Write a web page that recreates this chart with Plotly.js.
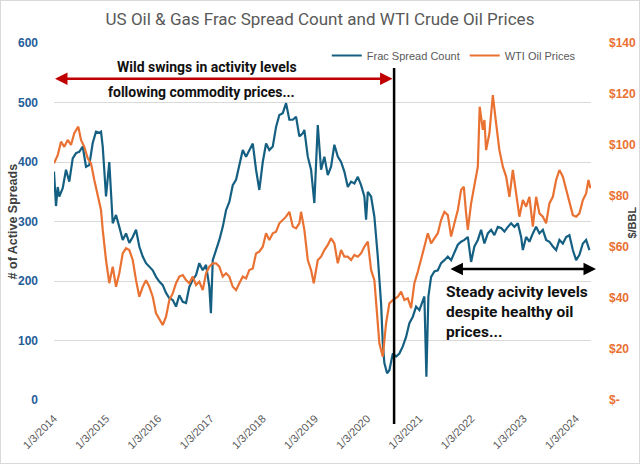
<!DOCTYPE html>
<html>
<head>
<meta charset="utf-8">
<script src="https://cdn.plot.ly/plotly-3.0.1.min.js"></script>
<style>
html,body{margin:0;padding:0;background:#fff;}
#chart{width:638px;height:462px;border:1px solid #D9D9D9;}
</style>
</head>
<body>
<div id="chart"></div>
<script>
// ---- Data ----
const fracDates = ["2014-01-03","2014-01-17","2014-01-29","2014-02-09","2014-03-05","2014-03-28","2014-04-20","2014-05-14","2014-06-06","2014-06-29","2014-07-23","2014-08-15","2014-09-07","2014-10-01","2014-10-24","2014-11-16","2014-11-28","2014-12-10",
"2015-01-02","2015-01-25","2015-02-18","2015-03-13","2015-04-05","2015-04-29","2015-05-22","2015-06-14","2015-07-08","2015-07-31","2015-08-23","2015-09-16","2015-10-09","2015-11-01","2015-11-25","2015-12-18",
"2016-01-10","2016-02-03","2016-02-26","2016-03-20","2016-04-13","2016-05-06","2016-05-29","2016-06-22","2016-07-15","2016-08-07","2016-08-31","2016-09-23","2016-10-16","2016-11-09","2016-12-02","2016-12-25",
"2017-01-05","2017-01-18","2017-02-10","2017-03-05","2017-03-29","2017-04-21","2017-05-14","2017-06-07","2017-06-30","2017-07-23","2017-08-16","2017-09-08","2017-10-01","2017-10-25","2017-11-17","2017-12-10",
"2018-01-03","2018-01-26","2018-02-18","2018-03-14","2018-04-06","2018-04-29","2018-05-23","2018-06-15","2018-07-08","2018-08-01","2018-08-24","2018-09-16","2018-10-10","2018-10-21","2018-11-14","2018-12-07","2018-12-30",
"2019-01-23","2019-02-15","2019-03-10","2019-04-03","2019-04-26","2019-05-19","2019-06-12","2019-07-05","2019-07-28","2019-08-21","2019-09-13","2019-10-06","2019-10-30","2019-11-22","2019-12-15","2019-12-27",
"2020-01-08","2020-01-31","2020-02-23","2020-03-18","2020-04-10","2020-04-22","2020-05-03","2020-05-22","2020-06-07","2020-07-01","2020-07-24","2020-08-16","2020-09-09","2020-10-02","2020-10-25","2020-11-18","2020-12-11",
"2021-01-03","2021-01-27","2021-02-07","2021-02-21","2021-03-07","2021-03-26","2021-04-18","2021-05-12","2021-06-04","2021-06-27","2021-07-21","2021-08-13","2021-09-05","2021-09-29","2021-10-22","2021-11-14","2021-12-08","2021-12-31",
"2022-01-23","2022-02-16","2022-03-11","2022-04-03","2022-04-27","2022-05-20","2022-06-12","2022-07-06","2022-07-29","2022-08-21","2022-09-14","2022-10-07","2022-10-30","2022-11-23","2022-12-16","2022-12-28",
"2023-01-20","2023-02-12","2023-03-08","2023-03-31","2023-04-23","2023-05-17","2023-06-09","2023-07-02","2023-07-26","2023-08-18","2023-09-10","2023-10-04","2023-10-27","2023-11-19","2023-12-13",
"2024-01-05","2024-01-28","2024-02-21","2024-03-15","2024-04-07"];
const fracCount = [384,326,358,342,356,387,367,406,415,417,426,392,395,432,451,449,451,426,
342,400,297,311,291,269,280,264,274,286,258,241,230,224,218,207,
199,193,180,171,168,157,176,165,163,190,202,210,230,218,227,190,
146,235,252,269,291,319,333,361,370,392,420,409,420,431,387,353,
400,431,420,426,459,479,482,499,471,471,476,443,448,454,409,387,331,
462,387,409,378,392,429,409,400,384,358,367,364,375,361,342,303,
350,342,308,241,162,95,62,45,50,78,73,78,90,106,129,140,157,
151,168,174,39,174,207,216,218,230,235,241,235,247,261,266,269,274,232,
258,269,286,263,280,286,277,291,289,283,291,297,291,297,274,252,
274,266,280,291,280,286,269,266,258,252,269,263,274,277,252,
235,244,263,269,252];

const wtiDates = ["2014-01-03","2014-01-29","2014-02-21","2014-03-16","2014-04-09","2014-05-02","2014-05-25","2014-06-22","2014-07-11","2014-08-03","2014-08-27","2014-09-19","2014-10-12","2014-11-05","2014-11-28","2014-12-10",
"2015-01-02","2015-01-25","2015-02-18","2015-03-13","2015-04-05","2015-04-29","2015-05-22","2015-06-14","2015-07-08","2015-07-31","2015-08-23","2015-09-16","2015-10-09","2015-11-01","2015-11-25","2015-12-18",
"2016-01-10","2016-02-03","2016-02-26","2016-03-20","2016-04-13","2016-05-06","2016-05-29","2016-06-22","2016-07-15","2016-08-07","2016-08-31","2016-09-23","2016-10-16","2016-11-09","2016-12-02","2016-12-25",
"2017-01-18","2017-02-10","2017-03-05","2017-03-29","2017-04-21","2017-05-14","2017-06-07","2017-06-30","2017-07-23","2017-08-16","2017-09-08","2017-10-01","2017-10-25","2017-11-17","2017-12-10",
"2018-01-03","2018-01-26","2018-02-18","2018-03-14","2018-04-06","2018-04-29","2018-05-23","2018-06-15","2018-07-08","2018-08-01","2018-08-24","2018-09-16","2018-09-28","2018-10-21","2018-11-14","2018-12-07","2018-12-26",
"2019-01-23","2019-02-15","2019-03-10","2019-04-03","2019-04-26","2019-05-19","2019-06-12","2019-07-05","2019-07-28","2019-08-21","2019-09-13","2019-10-06","2019-10-30","2019-11-22","2019-12-15",
"2020-01-08","2020-01-31","2020-02-23","2020-03-16","2020-03-29","2020-04-22","2020-05-15","2020-06-07","2020-07-01","2020-08-05","2020-08-28","2020-09-20","2020-10-14","2020-11-06","2020-11-29","2020-12-23",
"2021-01-15","2021-02-07","2021-03-03","2021-03-26","2021-04-18","2021-05-12","2021-06-04","2021-06-27","2021-07-21","2021-08-13","2021-09-05","2021-09-29","2021-10-22","2021-11-10","2021-11-26","2021-12-08","2021-12-31",
"2022-01-23","2022-02-16","2022-03-01","2022-03-23","2022-04-03","2022-04-15","2022-05-08","2022-06-01","2022-06-24","2022-07-17","2022-08-10","2022-09-02","2022-09-25","2022-10-19","2022-11-11","2022-12-04","2022-12-28",
"2023-01-20","2023-02-12","2023-03-08","2023-03-31","2023-04-23","2023-05-17","2023-06-09","2023-07-02","2023-07-26","2023-08-18","2023-09-10","2023-10-04","2023-10-27","2023-11-19","2023-12-13",
"2024-01-05","2024-01-28","2024-02-21","2024-03-15","2024-03-31","2024-04-14"];
const wtiPrice = [92.8,96,101.3,99.3,102,100,104.6,107.2,102,99.3,94.8,92.8,86.3,79.7,74.5,66.7,
54.9,45.8,52.3,44.4,49.7,57.5,59.5,58.8,54.9,47,40.5,44.4,47,44.4,40.5,34,
32,29.4,32.7,39.2,41.8,45.8,48.4,49,47,45.8,48.4,45.1,46.4,43.1,49.7,52.3,
53.6,53.6,52.3,48.4,49.7,48.4,44.4,43.1,45.8,48.4,47.7,51,51.6,57.5,58.2,
60.1,65.4,62.7,65.4,66,69.3,70.6,71.9,73.8,68,67.3,69.3,73.8,66.7,54.9,51,45.8,
54.9,56.2,58.8,60.8,63.4,61.4,53.6,58.8,56.2,56.2,54.9,56.9,56.2,57.5,60.1,
62.1,51,47,30.1,22.2,17,30.1,37.9,39.2,40.5,42.5,39.2,39.9,36,45.8,50.3,
54.9,60.1,65.4,61.4,63.4,65.4,70.6,73.8,72.5,64.1,69.3,74.5,82.4,83.6,73.2,66.7,77.1,
85,91.5,115,105.9,109.8,98,104.6,119.6,108.5,98,91.5,87.6,79.7,90.2,81,71.9,78.4,
75.8,79.7,68,79.7,73.2,71.9,69.3,77.1,79.7,86.3,90.2,87.6,82.4,77.1,72.5,
71.9,73.2,78.4,81,86.3,83];

const yearTicks = ["2014-01-03","2015-01-03","2016-01-03","2017-01-03","2018-01-03","2019-01-03","2020-01-03","2021-01-03","2022-01-03","2023-01-03","2024-01-03"];
const yearLabels = ["1/3/2014","1/3/2015","1/3/2016","1/3/2017","1/3/2018","1/3/2019","1/3/2020","1/3/2021","1/3/2022","1/3/2023","1/3/2024"];
const leftTicks = [0,100,200,300,400,500,600];
const rightTicks = [0,20,40,60,80,100,120,140];
const rightLabels = ["$-","$20","$40","$60","$80","$100","$120","$140"];
const splitDate = "2020-07-10";

const BLUE = "#156082", ORANGE = "#E97132";
const SANS = "Liberation Sans, Arial, sans-serif";
const NOTE = "Roboto, sans-serif";

const traces = [
  {x: fracDates, y: fracCount, type: "scatter", mode: "lines", name: "Frac Spread Count",
   line: {color: BLUE, width: 2.2}, yaxis: "y"},
  {x: wtiDates, y: wtiPrice, type: "scatter", mode: "lines", name: "WTI Oil Prices",
   line: {color: ORANGE, width: 2.2}, yaxis: "y2"}
];

const layout = {
  width: 638, height: 462,
  margin: {l: 53, r: 48, t: 42, b: 63},
  paper_bgcolor: "#fff", plot_bgcolor: "#fff",
  title: {text: "US Oil & Gas Frac Spread Count and WTI Crude Oil Prices",
          font: {family: NOTE, size: 17, color: "#595959"}, x: 0.5, xanchor: "center", y: 0.962, yanchor: "middle"},
  showlegend: true,
  legend: {orientation: "h", x: 0.508, xanchor: "left", y: 0.965, yanchor: "middle",
           font: {family: SANS, size: 11, color: "#595959"},
           bgcolor: "rgba(0,0,0,0)", itemwidth: 30, tracegroupgap: 0},
  xaxis: {type: "date", range: ["2014-01-03", "2024-04-18"], tickvals: yearTicks, ticktext: yearLabels,
          tickangle: -45, showgrid: false, zeroline: false, showline: false, ticks: "", ticklabelstandoff: 9,
          tickfont: {family: SANS, size: 11, color: "#595959"}},
  yaxis: {range: [0, 600], tickvals: leftTicks, showgrid: true, gridcolor: "#D9D9D9", gridwidth: 1,
          zeroline: false, showline: false, ticks: "", ticklabelstandoff: 15,
          tickfont: {family: SANS, size: 12, color: "#1F5E99", weight: "bold"}},
  yaxis2: {range: [0, 140], tickvals: rightTicks, ticktext: rightLabels, overlaying: "y", side: "right",
           showgrid: false, zeroline: false, showline: false, ticks: "", ticklabelstandoff: 17,
           tickfont: {family: SANS, size: 12, color: ORANGE, weight: "bold"}},
  shapes: [
    {type: "line", xref: "x", yref: "paper", x0: splitDate, x1: splitDate, y0: -0.067, y1: 0.93,
     line: {color: "#000", width: 2.5}}
  ],
  annotations: [
    {xref: "paper", yref: "paper", x: -0.0765, y: 0.5, text: "# of Active Spreads", textangle: -90, showarrow: false,
     xanchor: "center", yanchor: "middle", font: {family: SANS, size: 12.5, color: "#404040", weight: "bold"}},
    {xref: "paper", yref: "paper", x: 1.0764, y: 0.497, text: "$/BBL", textangle: -90, showarrow: false,
     xanchor: "center", yanchor: "middle", font: {family: SANS, size: 11, color: "#404040", weight: "bold"}},
    // red double arrow
    {xref: "x", yref: "y", axref: "x", ayref: "y", x: "2014-01-10", y: 540, ax: splitDate, ay: 540,
     text: "", showarrow: true, arrowhead: 2, arrowside: "end+start", arrowsize: 1, arrowwidth: 2.5, arrowcolor: "#C00000", standoff: 0, startstandoff: 0},
    {xref: "paper", yref: "paper", x: 0.285, y: 0.933, text: "Wild swings in activity levels", showarrow: false,
     font: {family: NOTE, size: 14, color: "#111", weight: "bold"}, xanchor: "center", yanchor: "middle"},
    {xref: "paper", yref: "paper", x: 0.274, y: 0.863, text: "following commodity prices...", showarrow: false,
     font: {family: NOTE, size: 14, color: "#111", weight: "bold"}, xanchor: "center", yanchor: "middle"},
    // black double arrow
    {xref: "x", yref: "y", axref: "x", ayref: "y", x: "2024-05-23", y: 220, ax: "2021-07-29", ay: 220,
     text: "", showarrow: true, arrowhead: 2, arrowside: "end+start", arrowsize: 1, arrowwidth: 2.5, arrowcolor: "#000", standoff: 0, startstandoff: 0},
    {xref: "paper", yref: "paper", x: 0.726, y: 0.246, text: "Steady acivity levels<br>despite healthy oil<br>prices...",
     showarrow: false, align: "left", xanchor: "left", yanchor: "middle",
     font: {family: NOTE, size: 15.5, color: "#111", weight: "bold"}}
  ]
};

Plotly.newPlot("chart", traces, layout, {displayModeBar: false, staticPlot: true});
</script>
</body>
</html>
